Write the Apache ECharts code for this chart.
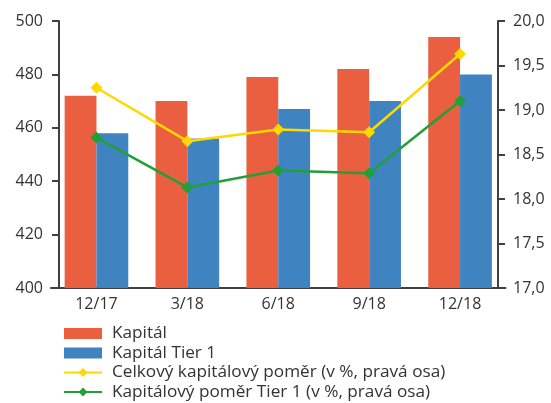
<!DOCTYPE html>
<html>
<head>
<meta charset="utf-8">
<script src="https://cdn.jsdelivr.net/npm/echarts@6/dist/echarts.min.js"></script>
<style>
  html, body { margin: 0; padding: 0; background: #fff; }
  #chart { width: 551px; height: 403px; }
</style>
</head>
<body>
<div id="chart"></div>
<script>
const categories = ['12/17', '3/18', '6/18', '9/18', '12/18'];
const kapital = [472, 470, 479, 482, 494];
const kapitalTier1 = [458, 456, 467, 470, 480];
const celkovyPomer = [19.25, 18.65, 18.78, 18.75, 19.63];
const pomerTier1 = [18.69, 18.13, 18.32, 18.29, 19.1];
const seriesNames = ['Kapitál', 'Kapitál Tier 1', 'Celkový kapitálový poměr (v %, pravá osa)', 'Kapitálový poměr Tier 1 (v %, pravá osa)'];

const FONT = '"Open Sans", sans-serif';
const TEXT = '#333333';
const AXIS = '#404040';

const chart = echarts.init(document.getElementById('chart'));

chart.setOption({
    animation: false,
    textStyle: { fontFamily: FONT },
    grid: { left: 51, right: 45.5, top: 21, bottom: 115 },
    legend: {
        orient: 'vertical',
        left: 63,
        top: 324,
        padding: 0,
        itemWidth: 38,
        itemHeight: 11,
        itemGap: 0.5,
        textStyle: { fontSize: 17.2, color: TEXT, lineHeight: 19, fontFamily: FONT, padding: [0, 0, 0, 5] },
        data: [
            { name: seriesNames[0], icon: 'rect' },
            { name: seriesNames[1], icon: 'rect' },
            seriesNames[2],
            seriesNames[3]
        ]
    },
    xAxis: {
        type: 'category',
        data: categories,
        axisLine: { lineStyle: { color: AXIS, width: 2 } },
        axisTick: { show: false },
        axisLabel: { fontSize: 16, color: TEXT, margin: 8, fontFamily: FONT }
    },
    yAxis: [
        {
            type: 'value',
            min: 400,
            max: 500,
            interval: 20,
            offset: -8,
            splitLine: { show: false },
            axisLine: { show: true, lineStyle: { color: AXIS, width: 2 } },
            axisTick: { show: true, length: 7, lineStyle: { color: AXIS, width: 2 } },
            axisLabel: { fontSize: 16, color: TEXT, margin: 16, fontFamily: FONT }
        },
        {
            type: 'value',
            min: 17,
            max: 20,
            interval: 0.5,
            offset: -7.5,
            splitLine: { show: false },
            axisLine: { show: true, lineStyle: { color: AXIS, width: 2 } },
            axisTick: { show: true, length: 7, lineStyle: { color: AXIS, width: 2 } },
            axisLabel: {
                fontSize: 16, color: TEXT, margin: 15, fontFamily: FONT,
                formatter: v => v.toFixed(1).replace('.', ',')
            }
        }
    ],
    series: [
        {
            name: seriesNames[0],
            type: 'bar',
            data: kapital,
            barGap: 0,
            barCategoryGap: '30%',
            itemStyle: { color: '#E95F40' }
        },
        {
            name: seriesNames[1],
            type: 'bar',
            data: kapitalTier1,
            itemStyle: { color: '#3F84C1' }
        },
        {
            name: seriesNames[2],
            type: 'line',
            yAxisIndex: 1,
            data: celkovyPomer,
            symbol: 'diamond',
            symbolSize: 12,
            lineStyle: { color: '#FED800', width: 2.5 },
            itemStyle: { color: '#FED800' }
        },
        {
            name: seriesNames[3],
            type: 'line',
            yAxisIndex: 1,
            data: pomerTier1,
            symbol: 'diamond',
            symbolSize: 12,
            lineStyle: { color: '#21A03A', width: 2.5 },
            itemStyle: { color: '#21A03A' }
        }
    ]
});
</script>
</body>
</html>
